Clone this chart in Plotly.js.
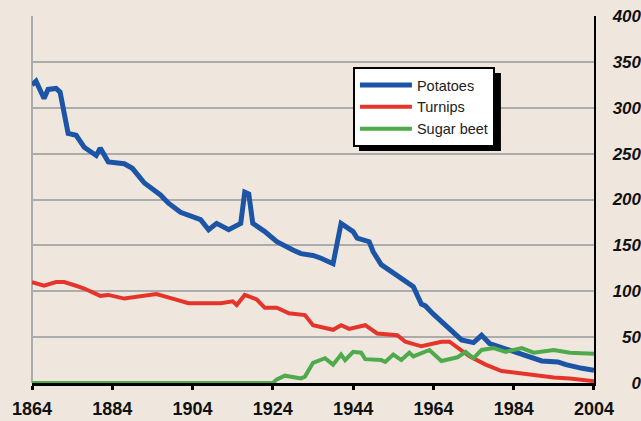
<!DOCTYPE html>
<html>
<head>
<meta charset="utf-8">
<script src="https://cdn.plot.ly/plotly-3.0.1.min.js"></script>
<style>
	html, body { margin: 0; padding: 0; background: #efe7de; }
	#plotContainer { width: 641px; height: 421px; }
</style>
</head>
<body>
<div id="plotContainer"></div>
<script>

// values (thousand hectares)
const potatoYears = [
	1864, 1865, 1867, 1868, 1870, 1871, 1873, 1875, 1877, 1880,
	1881, 1883, 1887, 1889, 1892, 1896, 1898, 1901, 1906, 1908,
	1910, 1913, 1916, 1917, 1918, 1919, 1922, 1925, 1929, 1931,
	1934, 1936, 1939, 1941, 1944, 1945, 1948, 1949, 1951, 1953,
	1956, 1959, 1961, 1962, 1964, 1968, 1971, 1974, 1976, 1978,
	1980, 1986, 1991, 1995, 1997, 2001, 2004
];
const potatoes = [
	325, 329, 310, 320, 321, 317, 272, 270, 257, 248,
	256, 241, 239, 234, 218, 205, 196, 186, 178, 167,
	174, 167, 174, 208, 206, 174, 165, 154, 145, 141,
	139, 136, 130, 174, 165, 158, 154, 143, 129, 123,
	114, 105, 86, 84, 75, 58, 47, 44, 52, 43,
	40, 31, 24, 23, 20, 16, 14
];

const turnipYears = [
	1864, 1867, 1870, 1872, 1875, 1877, 1881, 1883, 1887, 1891,
	1895, 1899, 1903, 1911, 1914, 1915, 1917, 1920, 1922, 1925,
	1928, 1932, 1934, 1939, 1941, 1943, 1947, 1950, 1955, 1957,
	1961, 1966, 1968, 1973, 1977, 1981, 1986, 1994, 1998, 2004
];
const turnips = [
	110, 106, 110, 110, 106, 103, 95, 96, 92, 94,
	97, 92, 87, 87, 89, 85, 96, 91, 82, 82,
	76, 74, 63, 58, 63, 59, 63, 54, 52, 45,
	40, 45, 45, 29, 20, 13, 10, 6, 5, 2
];

const beetYears = [
	1864, 1924, 1925, 1927, 1931, 1932, 1934, 1937, 1939, 1941,
	1942, 1944, 1946, 1947, 1951, 1952, 1954, 1956, 1958, 1959,
	1963, 1966, 1970, 1972, 1974, 1976, 1979, 1982, 1986, 1989,
	1994, 1998, 2004
];
const sugarBeet = [
	0, 0, 4, 8, 5, 7, 22, 27, 20, 31,
	25, 34, 33, 26, 25, 23, 31, 25, 33, 29,
	36, 24, 28, 34, 27, 36, 38, 34, 38, 33,
	36, 33, 32
];

const yearTicks = [ 1864, 1884, 1904, 1924, 1944, 1964, 1984, 2004 ];
const valueTicks = [ 0, 50, 100, 150, 200, 250, 300, 350, 400 ];

const seriesNames = [ 'Potatoes', 'Turnips', 'Sugar beet' ];
const seriesColors = [ '#1c55a6', '#e5352b', '#4faa4c' ];

/**
 * Draws the crop area line chart.
 */
function createCropChart() {

	const background = '#efe7de';
	const gridColor = '#acacac';
	const font = 'Liberation Sans, Arial, Helvetica, sans-serif';

	const xs = [ potatoYears, turnipYears, beetYears ];
	const ys = [ potatoes, turnips, sugarBeet ];
	const widths = [ 5, 4, 4 ];

	let data = [ ];

	for ( let i = 0; i < seriesNames.length; i++ ) {

		data.push( {
			x: xs[ i ],
			y: ys[ i ],
			name: seriesNames[ i ],
			type: 'scatter',
			mode: 'lines',
			cliponaxis: false,
			line: { color: seriesColors[ i ], width: widths[ i ] }
		} );

	}

	// empty trace so the label axis on the right is drawn
	data.push( { x: [ ], y: [ ], yaxis: 'y2', showlegend: false, hoverinfo: 'skip' } );

	const layout = {
		width: 641,
		height: 421,
		margin: { l: 32, r: 0, t: 16, b: 38 },
		paper_bgcolor: background,
		plot_bgcolor: background,
		font: { family: font, color: '#111' },
		showlegend: true,
		legend: {
			x: 0.527,
			y: 0.861,
			xanchor: 'left',
			yanchor: 'top',
			bgcolor: '#ffffff',
			bordercolor: '#000000',
			borderwidth: 2,
			itemwidth: 52,
			font: { family: font, size: 14.5, color: '#222' },
			tracegroupgap: 0
		},
		xaxis: {
			domain: [ 0, 0.9228 ],
			range: [ 1864, 2004 ],
			tickvals: yearTicks,
			ticktext: yearTicks.map( String ),
			ticks: 'outside',
			ticklen: 4,
			tickwidth: 3,
			tickcolor: '#000',
			ticklabelstandoff: 3,
			showgrid: false,
			zeroline: false,
			showline: true,
			linecolor: '#000',
			linewidth: 3,
			layer: 'below traces',
			tickfont: { family: font, size: 18, weight: 'bold', color: '#111' }
		},
		yaxis: {
			range: [ 0, 400 ],
			side: 'right',
			tickvals: valueTicks,
			showticklabels: false,
			ticks: '',
			showgrid: true,
			gridcolor: gridColor,
			gridwidth: 2,
			zeroline: false,
			showline: true,
			linecolor: '#000',
			linewidth: 2,
			layer: 'below traces'
		},
		yaxis2: {
			overlaying: 'y',
			anchor: 'free',
			position: 1,
			side: 'left',
			range: [ 0, 400 ],
			tickvals: valueTicks,
			ticktext: valueTicks.map( String ),
			ticks: '',
			showgrid: false,
			zeroline: false,
			showline: false,
			tickfont: { family: font, size: 17, weight: 'bold', style: 'italic', color: '#111' }
		},
		shapes: [
			// grey frame line on the left
			{
				type: 'line', xref: 'paper', yref: 'paper',
				x0: 0, x1: 0, y0: 0, y1: 1,
				line: { color: gridColor, width: 2 },
				layer: 'below'
			},
			// legend drop shadow
			{
				type: 'rect', xref: 'paper', yref: 'paper',
				x0: 0.537, x1: 0.770, y0: 0.632, y1: 0.845,
				fillcolor: '#000', line: { width: 0 },
				layer: 'above'
			}
		]
	};

	Plotly.newPlot( 'plotContainer', data, layout, { staticPlot: true } );

}

createCropChart();

</script>
</body>
</html>
